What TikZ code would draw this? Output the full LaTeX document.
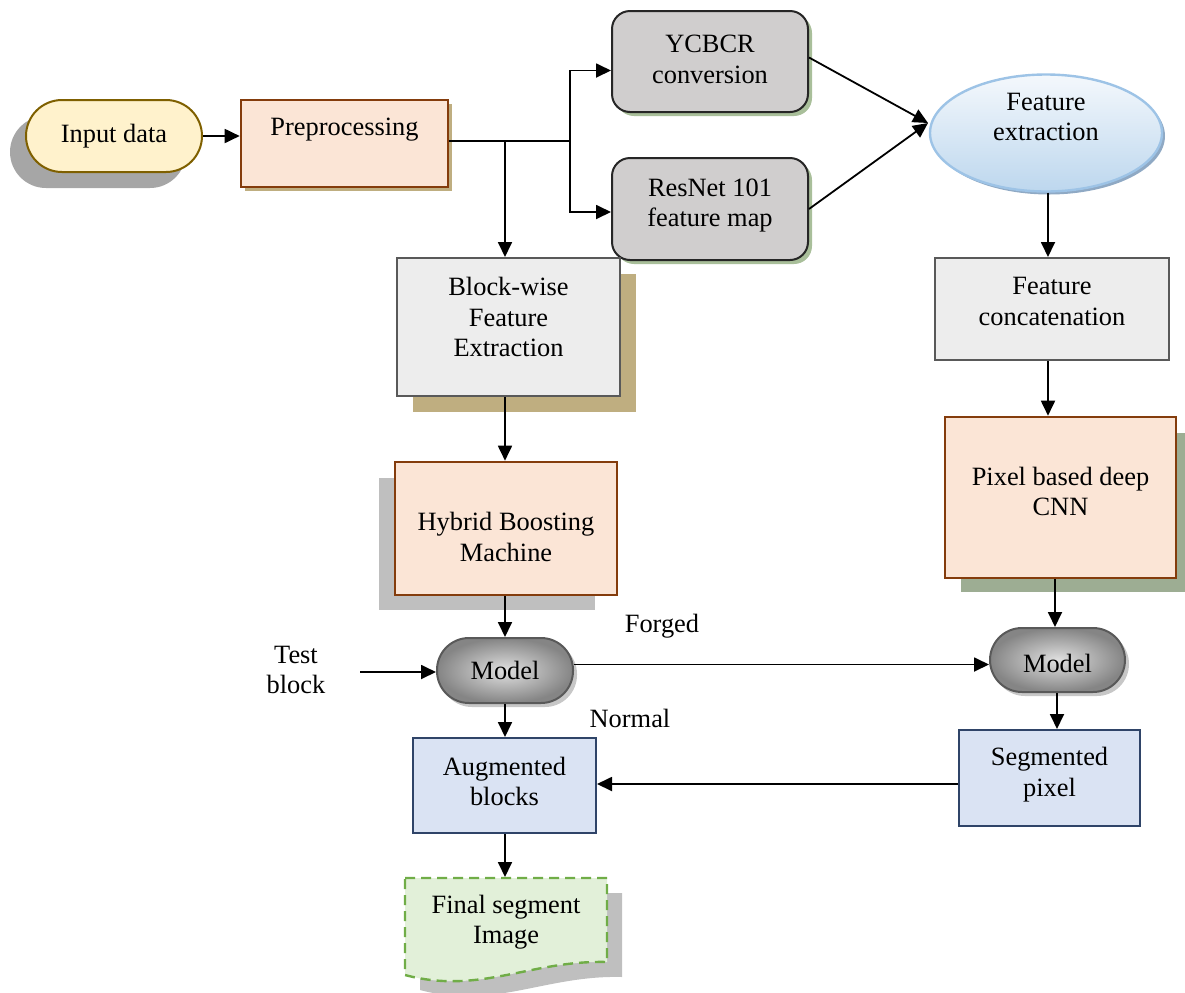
\documentclass[tikz,border=0pt]{standalone}
\usepackage{fontspec}
\setmainfont{Liberation Serif}
\usetikzlibrary{fit,calc,arrows.meta,shapes.geometric}
\definecolor{peach}{HTML}{FBE5D6}
\definecolor{brownb}{HTML}{843C0C}
\definecolor{inf}{HTML}{FFF2CC}
\definecolor{inb}{HTML}{7F6000}
\definecolor{lightgrey}{HTML}{EDEDED}
\definecolor{boxgrey}{HTML}{595959}
\definecolor{bluef}{HTML}{DAE3F3}
\definecolor{blueb}{HTML}{2F4468}
\definecolor{convgrey}{HTML}{D0CECE}
\definecolor{greenf}{HTML}{E2F0D9}
\definecolor{greenb}{HTML}{70AD47}
\definecolor{ellb}{HTML}{9DC3E6}
\definecolor{elltop}{HTML}{F4F8FC}
\definecolor{ellbot}{HTML}{BDD7EE}
\definecolor{shgrey}{HTML}{A6A6A6}
\definecolor{shlight}{HTML}{BFBFBF}
\definecolor{shtan}{HTML}{BFAE80}
\definecolor{shgreen}{HTML}{9DAD93}
\definecolor{shconv}{HTML}{A9BF9A}
\definecolor{shell}{HTML}{8FA9C4}
\newcommand\dfont{\fontsize{13.2}{15.3}\selectfont}
\begin{document}
\begin{tikzpicture}[x=0.5pt,y=-0.5pt,
  every node/.style={font=\dfont},
  base/.style={inner sep=0pt, align=center, line width=1pt},
  lbl/.style={align=center, font=\dfont, inner sep=0pt},
  tx/.style 2 args={label={[lbl, yshift=#2]center:{#1}}},
  brownbox/.style={base, draw=brownb, fill=peach, line width=1.3pt},
  greybox/.style={base, draw=boxgrey, fill=lightgrey},
  bluebox/.style={base, draw=blueb, fill=bluef},
  convbox/.style={base, draw=black!85, fill=convgrey, rounded corners=9pt},
  modelbox/.style={base, draw=boxgrey, inner color=black!12, outer color=black!48, rounded corners=16pt},
  txt/.style={align=center, inner sep=0pt},
  arr/.style={-{Triangle[length=7.5pt,width=7pt]}, line width=0.9pt},
  ln/.style={line width=0.9pt}
]
\useasboundingbox (0,0) rectangle (1185,992);

% ---------- shadows ----------
\fill[shgrey, rounded corners=18pt] (10,116) rectangle (186,188);
\fill[shtan] (245,104) rectangle (452,191);
\fill[shconv, rounded corners=9pt] (616,15) rectangle (812,116);
\fill[shconv, rounded corners=9pt] (616,162) rectangle (812,264);
\fill[shell] (1049,136) ellipse [x radius=58pt, y radius=29.25pt];
\fill[shtan] (413,274) rectangle (636,412);
\fill[shlight] (379,478) rectangle (595,610);
\fill[shgreen] (961,433) rectangle (1185,592);
\fill[black!22, rounded corners=16pt] (440,642) rectangle (577,707);
\fill[black!22, rounded corners=16pt] (993,632) rectangle (1129,696);
\fill[shlight] (420,893) -- (622,893) -- (622,977) .. controls (545,975) and (495,1010) .. (420,990) -- cycle;
% final segment image (document shape)
\filldraw[fill=greenf, draw=greenb, line width=1.2pt, dash pattern=on 5pt off 3pt]
  (405,878) -- (607,878) -- (607,962) .. controls (530,960) and (480,995) .. (405,975) -- cycle;

% ---------- nodes ----------
\node[base, draw=inb, fill=inf, rounded corners=18pt, fit={(26,100)(202,172)}, tx={Input data}{0pt}] (in) {};
\node[brownbox, fit={(241,100)(448,187)}, tx={Preprocessing}{7pt}] (pre) {};
\node[convbox, fit={(612,11)(808,112)}, tx={YCBCR\\conversion}{1pt}] (ycb) {};
\node[convbox, fit={(612,158)(808,260)}, tx={ResNet 101\\feature map}{1.75pt}] (res) {};
\node[ellipse, base, draw=ellb, line width=1.2pt, top color=elltop, bottom color=ellbot,
      minimum width=116pt, minimum height=58.5pt, tx={Feature\\extraction}{8pt}] (ell) at (1046,133) {};
\node[greybox, fit={(397,258)(620,396)}, tx={Block-wise\\Feature\\Extraction}{5pt}] (blk) {};
\node[brownbox, fit={(395,462)(617,595)}, tx={Hybrid Boosting\\Machine}{-4.25pt}] (hyb) {};
\node[greybox, fit={(935,258)(1169,360)}, tx={Feature\\concatenation}{3.75pt}] (fc) {};
\node[brownbox, fit={(945,417)(1176,578)}, tx={Pixel based deep\\CNN}{3pt}] (pix) {};
\node[modelbox, fit={(437,638)(573,703)}, tx={Model}{0pt}] (m1) {};
\node[modelbox, fit={(990,628)(1125,692)}, tx={Model}{-1.5pt}] (m2) {};
\node[bluebox, fit={(413,738)(596,833)}, tx={Augmented\\blocks}{2pt}] (aug) {};
\node[bluebox, fit={(959,730)(1140,826)}, tx={Segmented\\pixel}{1.75pt}] (seg) {};
\node[base, fit={(405,878)(607,966)}, tx={Final segment\\Image}{0pt}] (fin) {};
\node[txt] (test) at (296,670) {Test\\block};
\node[txt] (forged) at (662,626) {Forged};
\node[txt] (normal) at (630,718) {Normal};

% ---------- connectors ----------
\coordinate (split) at (570,141);
\coordinate (tap) at (505,141);
\coordinate (ein) at (928,123);
\coordinate (tin) at (360,672);

\draw[arr] (in.east) -- (in.east -| pre.west);
\draw[ln] (pre.east |- split) -- (split);
\draw[arr] (split) |- ([yshift=-4.5pt]ycb.west);
\draw[arr] (split) |- ([yshift=-1.5pt]res.west);
\draw[arr] (tap) -- (tap |- blk.north);
\draw[arr] ([yshift=2pt]ycb.east) -- (ein);
\draw[arr] (res.east) -- (ein);
\draw[arr] (ell.south -| 1048,0) -- (fc.north -| 1048,0);
\draw[arr] (fc.south -| 1048,0) -- (pix.north -| 1048,0);
\draw[arr] (pix.south -| 1055,0) -- (m2.north -| 1055,0);
\draw[arr] (m2.south -| 1057,0) -- (seg.north -| 1057,0);
\draw[arr] (blk.south -| tap) -- (hyb.north -| tap);
\draw[arr] (hyb.south -| tap) -- (m1.north -| tap);
\draw[arr] (tin) -- (m1.west |- tin);
\draw[arr] ([yshift=3pt]m1.east) -- ([yshift=3pt]m1.east -| m2.west);
\draw[arr] (m1.south -| tap) -- (aug.north -| tap);
\draw[arr] (seg.west |- 0,784) -- (aug.east |- 0,784);
\draw[arr] (aug.south -| tap) -- (fin.north -| tap);
\end{tikzpicture}
\end{document}
